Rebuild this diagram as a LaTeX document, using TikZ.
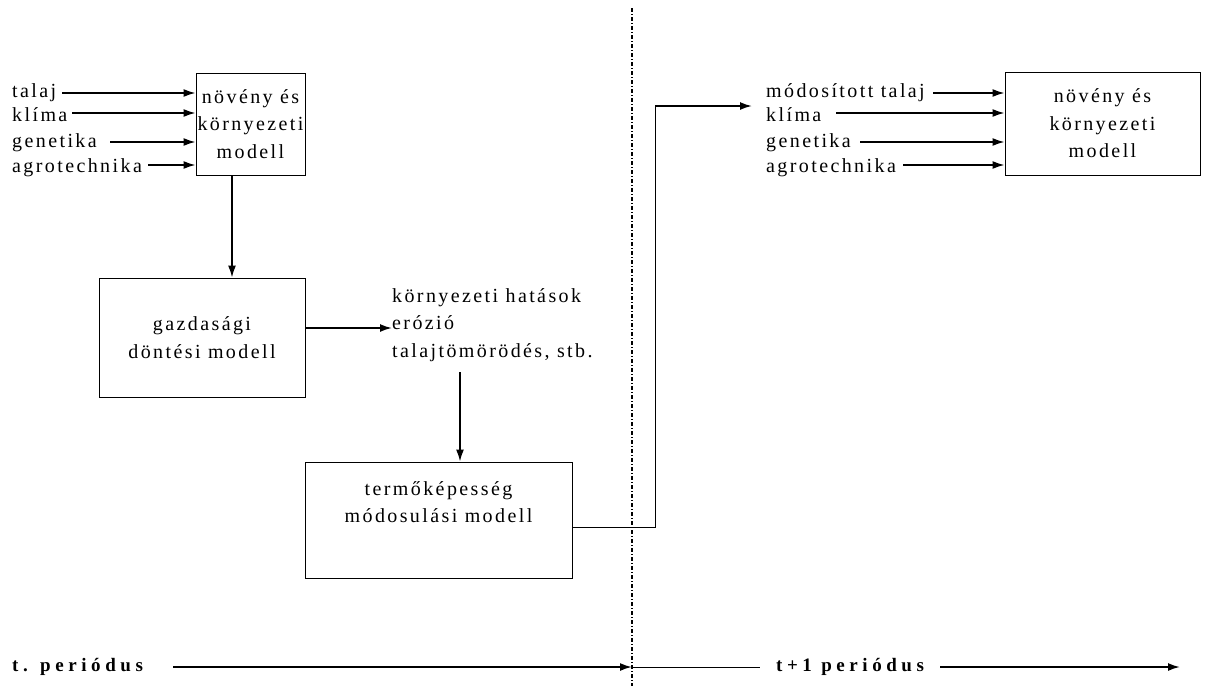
\documentclass[tikz,border=0pt]{standalone}
\usepackage{fontspec}
\setmainfont{Liberation Serif}
\newfontfamily\wideserif{Liberation Serif}[LetterSpace=12]
\newfontfamily\widebold{Liberation Serif Bold}[LetterSpace=24]
\usetikzlibrary{arrows.meta}
\begin{document}
\begin{tikzpicture}[x=1pt,y=-1pt,
  every node/.style={font=\wideserif\fontsize{20}{27.5}\selectfont},
  box/.style={draw,line width=0.8pt,inner sep=0pt,align=center},
  lbl/.style={anchor=west,inner sep=0pt},
  period/.style={anchor=west,inner sep=0pt,font=\widebold\fontsize{19}{20}\selectfont},
  arr/.style={-{Latex[length=12pt,width=8pt]},line width=1.8pt},
  thin/.style={line width=0.8pt}]
\useasboundingbox (0,0) rectangle (1211,686);
% left model box
\node[box,minimum width=109pt,minimum height=102pt] (b1) at (250.5,124) {növény és\\környezeti\\modell};
\node[lbl] (t1) at (12,93) {talaj};
\node[lbl] (t2) at (12,115) {klíma};
\node[lbl] (t3) at (12,143) {genetika};
\node[lbl] (t4) at (12,168) {agrotechnika};
\coordinate (s1) at (62,93);
\coordinate (s2) at (72,113);
\coordinate (s3) at (110,142);
\coordinate (s4) at (148,165);
\draw[arr] (s1) -- (b1.west |- s1);
\draw[arr] (s2) -- (b1.west |- s2);
\draw[arr] (s3) -- (b1.west |- s3);
\draw[arr] (s4) -- (b1.west |- s4);
% economic box
\node[box,minimum width=206pt,minimum height=119pt] (b2) at (202,337.5) {gazdasági\\döntési modell};
\coordinate (d1) at (232,175);
\draw[arr] (d1) -- (d1 |- b2.north);
\node[lbl,align=left] (env) at (392,325) {környezeti hatások\\erózió\\talajtömörödés, stb.};
\coordinate (e1) at (392,328);
\draw[arr] (b2.east |- e1) -- (e1);
% fertility box
\node[box,minimum width=267pt,minimum height=116pt] (b3) at (438.5,520) {termőképesség\\módosulási modell\\\strut};
\coordinate (e2) at (460,372);
\draw[arr] (e2) -- (e2 |- b3.north);
% connection to next period
\coordinate (c1) at (655,527);
\coordinate (c2) at (655,106);
\coordinate (c3) at (752,106);
\draw[thin] (b3.east |- c1) -- (c1) -- (c2);
\draw[arr] (c2) -- (c3);
% separator
\coordinate (v1) at (632,8);
\coordinate (v2) at (632,686);
\draw[line width=1.2pt,dash pattern=on 4pt off 2pt on 1pt off 2pt] (v1) -- (v2);
% right model box
\node[box,minimum width=195pt,minimum height=103pt] (b4) at (1102.5,123.5) {növény és\\környezeti\\modell};
\node[lbl] (r1) at (766,93) {módosított talaj};
\node[lbl] (r2) at (766,115) {klíma};
\node[lbl] (r3) at (766,143) {genetika};
\node[lbl] (r4) at (766,168) {agrotechnika};
\coordinate (q1) at (933,93);
\coordinate (q2) at (836,113);
\coordinate (q3) at (860,142);
\coordinate (q4) at (903,165);
\draw[arr] (q1) -- (b4.west |- q1);
\draw[arr] (q2) -- (b4.west |- q2);
\draw[arr] (q3) -- (b4.west |- q3);
\draw[arr] (q4) -- (b4.west |- q4);
% periods
\node[period] (p1) at (12,667) {t. periódus};
\node[period] (p2) at (776,667) {t+1 periódus};
\coordinate (m0) at (173,667);
\coordinate (m) at (632,667);
\coordinate (m2) at (760,667);
\coordinate (m3) at (940,667);
\coordinate (m4) at (1180,667);
\draw[arr] (m0) -- (m);
\draw[thin] (m) -- (m2);
\draw[arr] (m3) -- (m4);
\end{tikzpicture}
\end{document}
